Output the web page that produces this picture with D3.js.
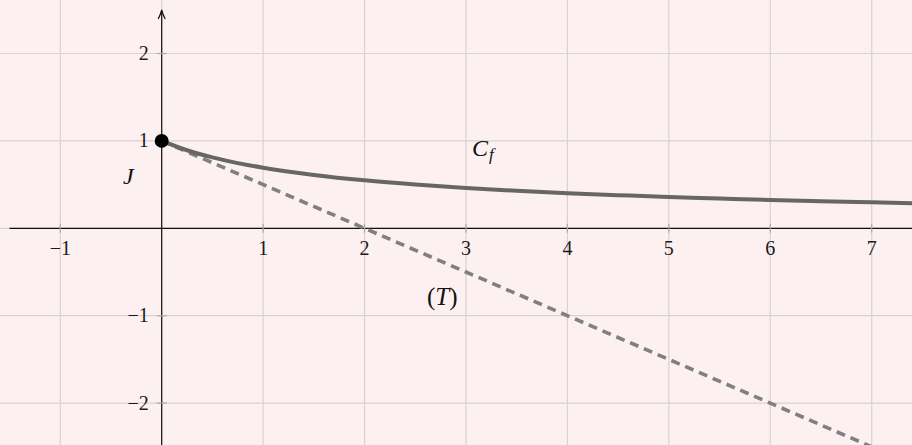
<!DOCTYPE html>
<html>
<head>
<meta charset="utf-8">
<script src="https://cdn.jsdelivr.net/npm/d3@7"></script>
<style>
  html, body { margin: 0; padding: 0; background: #fdf0f0; }
  svg { display: block; }
</style>
</head>
<body>
<script>
// Curve C_f sampled points
const curveX = [0, 0.25, 0.5, 0.75, 1, 1.5, 2, 2.5, 3, 3.5, 4, 4.5, 5, 5.5, 6, 6.5, 7, 7.5];
const curveY = [1, 0.893, 0.811, 0.746, 0.693, 0.611, 0.549, 0.501, 0.462, 0.429, 0.402, 0.379, 0.358, 0.341, 0.324, 0.310, 0.297, 0.285];
// Tangent (T) at J
const tangentX = [0, 7];
const tangentY = [1, -2.5];
// Point J
const pointJ = [0, 1];
// Axis ticks
const xTicks = [-1, 1, 2, 3, 4, 5, 6, 7];
const yTicks = [-2, -1, 1, 2];
const xGrid = [-1, 0, 1, 2, 3, 4, 5, 6, 7];
const yGrid = [-2, -1, 0, 1, 2];

const W = 912, H = 445;
const SERIF = "'Liberation Serif', 'DejaVu Serif', serif";
const x = d3.scaleLinear().domain([0, 7]).range([161.7, 871.7]);
const y = d3.scaleLinear().domain([0, 2]).range([228.3, 53.5]);

const svg = d3.select("body").append("svg").attr("width", W).attr("height", H);
svg.append("rect").attr("width", W).attr("height", H).attr("fill", "#fdf0f0");

// grid
svg.append("g").selectAll("line").data(xGrid).join("line")
  .attr("x1", d => x(d)).attr("x2", d => x(d)).attr("y1", 0).attr("y2", H)
  .attr("stroke", "#d9d2d2").attr("stroke-width", 1.2);
svg.append("g").selectAll("line").data(yGrid).join("line")
  .attr("x1", 0).attr("x2", W).attr("y1", d => y(d)).attr("y2", d => y(d))
  .attr("stroke", "#d9d2d2").attr("stroke-width", 1.2);

// axes
svg.append("line").attr("x1", 9.5).attr("x2", W).attr("y1", y(0)).attr("y2", y(0))
  .attr("stroke", "#111").attr("stroke-width", 1.2);
svg.append("line").attr("x1", x(0)).attr("x2", x(0)).attr("y1", H).attr("y2", 11)
  .attr("stroke", "#111").attr("stroke-width", 1.2);
// arrow head on the y axis
svg.append("path")
  .attr("d", `M${x(0) - 3.5},${19} Q${x(0) - 1},${14} ${x(0)},${10} Q${x(0) + 1},${14} ${x(0) + 3.5},${19}`)
  .attr("fill", "none").attr("stroke", "#111").attr("stroke-width", 1.2);

// tick marks
svg.append("g").selectAll("line").data(xTicks).join("line")
  .attr("x1", d => x(d)).attr("x2", d => x(d)).attr("y1", y(0) - 4.5).attr("y2", y(0) + 4.5)
  .attr("stroke", "#aaa").attr("stroke-width", 1.2);
svg.append("g").selectAll("line").data(yTicks).join("line")
  .attr("x1", x(0) - 5).attr("x2", x(0) + 5).attr("y1", d => y(d)).attr("y2", d => y(d))
  .attr("stroke", "#aaa").attr("stroke-width", 1.2);

const fmt = d => d < 0 ? "\u2212" + Math.abs(d) : String(d);
svg.append("g").selectAll("text").data(xTicks).join("text")
  .attr("font-family", SERIF).attr("font-size", 20).attr("fill", "#1a1a1a")
  .attr("x", d => x(d)).attr("y", y(0) + 26.5)
  .attr("text-anchor", "middle").text(fmt);
svg.append("g").selectAll("text").data(yTicks).join("text")
  .attr("font-family", SERIF).attr("font-size", 20).attr("fill", "#1a1a1a")
  .attr("x", x(0) - 13).attr("y", d => y(d) + 6.5)
  .attr("text-anchor", "end").text(fmt);

// tangent (dashed)
svg.append("path")
  .datum(tangentX.map((v, i) => [v, tangentY[i]]))
  .attr("d", d3.line().x(d => x(d[0])).y(d => y(d[1])))
  .attr("fill", "none").attr("stroke", "#808080").attr("stroke-width", 3.6)
  .attr("stroke-dasharray", "9,6");

// curve
svg.append("path")
  .datum(curveX.map((v, i) => [v, curveY[i]]))
  .attr("d", d3.line().curve(d3.curveMonotoneX).x(d => x(d[0])).y(d => y(d[1])))
  .attr("fill", "none").attr("stroke", "#666").attr("stroke-width", 4);

// point J
svg.append("circle").attr("cx", x(pointJ[0])).attr("cy", y(pointJ[1])).attr("r", 7).attr("fill", "#000");

// labels
const mathText = (sel, size) => sel.attr("font-family", SERIF).attr("font-style", "italic")
  .attr("font-size", size).attr("fill", "#111");
const cf = svg.append("text").call(mathText, 24).attr("x", 472).attr("y", 156);
cf.append("tspan").text("C");
cf.append("tspan").attr("font-size", 17).attr("dx", 1).attr("dy", 4).text("f");
svg.append("text").call(mathText, 24).attr("x", 123).attr("y", 184).text("J");
const t = svg.append("text").call(mathText, 25).attr("x", 427).attr("y", 305);
t.append("tspan").attr("font-style", "normal").text("(");
t.append("tspan").text("T");
t.append("tspan").attr("font-style", "normal").text(")");
</script>
</body>
</html>
